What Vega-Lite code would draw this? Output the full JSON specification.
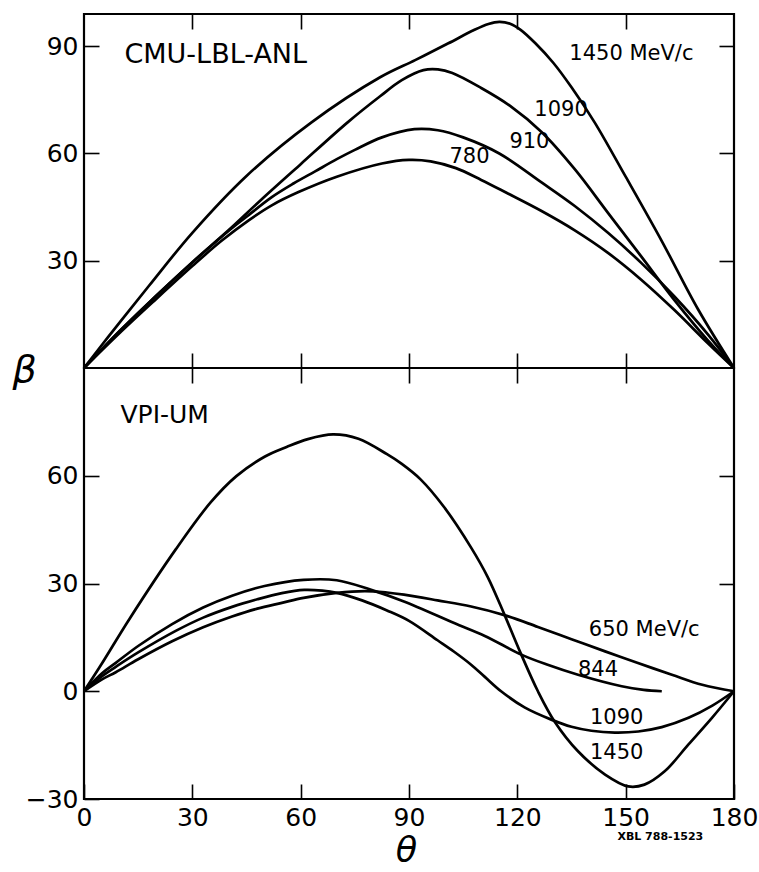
{
  "$schema": "https://vega.github.io/schema/vega-lite/v6.json",
  "padding": {"left": 10, "top": 12, "right": 5, "bottom": 5},
  "background": "white",
  "spacing": 0,
  "bounds": "flush",
  "config": {
    "view": {"stroke": "black", "strokeWidth": 2.2},
    "concat": {"spacing": 0},
    "axis": {
      "domain": false, "grid": false, "tickColor": "black", "tickWidth": 1.6, "tickSize": -15,
      "labelFont": "DejaVu Sans", "labelFontSize": 25, "labelColor": "black", "labelPadding": 21,
      "labelFlush": false, "labelOverlap": false, "labelBound": false
    },
    "text": {"font": "DejaVu Sans", "color": "black"}
  },
  "datasets": {
    "top": [
      {"s": "1450", "t": 0, "b": 0}, {"s": "1450", "t": 5, "b": 6.5}, {"s": "1450", "t": 10, "b": 12.9}, {"s": "1450", "t": 18, "b": 23}, {"s": "1450", "t": 30, "b": 37.8}, {"s": "1450", "t": 45, "b": 53.7}, {"s": "1450", "t": 63, "b": 68.7}, {"s": "1450", "t": 82, "b": 81.3}, {"s": "1450", "t": 91.7, "b": 86.1}, {"s": "1450", "t": 100.9, "b": 90.8}, {"s": "1450", "t": 108, "b": 94.5}, {"s": "1450", "t": 112, "b": 96.2}, {"s": "1450", "t": 115, "b": 96.8}, {"s": "1450", "t": 118, "b": 96.3}, {"s": "1450", "t": 121, "b": 94.5}, {"s": "1450", "t": 125, "b": 90.8}, {"s": "1450", "t": 130, "b": 85.3}, {"s": "1450", "t": 135, "b": 78.5}, {"s": "1450", "t": 141.4, "b": 68.7}, {"s": "1450", "t": 150, "b": 53.5}, {"s": "1450", "t": 160, "b": 35.5}, {"s": "1450", "t": 170, "b": 16.5}, {"s": "1450", "t": 180, "b": 0},
      {"s": "1090", "t": 0, "b": 0}, {"s": "1090", "t": 10, "b": 10.5}, {"s": "1090", "t": 20, "b": 20.2}, {"s": "1090", "t": 30, "b": 29.6}, {"s": "1090", "t": 40, "b": 38.5}, {"s": "1090", "t": 49, "b": 47}, {"s": "1090", "t": 60, "b": 57}, {"s": "1090", "t": 73, "b": 68.7}, {"s": "1090", "t": 82, "b": 76}, {"s": "1090", "t": 88, "b": 80.5}, {"s": "1090", "t": 94, "b": 83.3}, {"s": "1090", "t": 98, "b": 83.5}, {"s": "1090", "t": 102, "b": 82.5}, {"s": "1090", "t": 110, "b": 78.3}, {"s": "1090", "t": 118, "b": 73.3}, {"s": "1090", "t": 126.7, "b": 66}, {"s": "1090", "t": 135.9, "b": 55.6}, {"s": "1090", "t": 145.1, "b": 43.4}, {"s": "1090", "t": 154.3, "b": 31.2}, {"s": "1090", "t": 163.5, "b": 19}, {"s": "1090", "t": 172.7, "b": 7.8}, {"s": "1090", "t": 180, "b": 0},
      {"s": "910", "t": 0, "b": 0}, {"s": "910", "t": 10, "b": 10.4}, {"s": "910", "t": 20, "b": 20.2}, {"s": "910", "t": 30, "b": 29.5}, {"s": "910", "t": 40, "b": 38.3}, {"s": "910", "t": 45, "b": 42.3}, {"s": "910", "t": 52, "b": 47.8}, {"s": "910", "t": 58, "b": 51.6}, {"s": "910", "t": 64, "b": 55}, {"s": "910", "t": 70, "b": 58.4}, {"s": "910", "t": 75, "b": 61}, {"s": "910", "t": 82.5, "b": 64.5}, {"s": "910", "t": 91.5, "b": 66.8}, {"s": "910", "t": 98, "b": 66.5}, {"s": "910", "t": 105, "b": 64.5}, {"s": "910", "t": 115, "b": 60}, {"s": "910", "t": 126.7, "b": 51.9}, {"s": "910", "t": 135.9, "b": 45.3}, {"s": "910", "t": 145.1, "b": 37.8}, {"s": "910", "t": 154.3, "b": 29.4}, {"s": "910", "t": 163.5, "b": 20}, {"s": "910", "t": 172.7, "b": 9.5}, {"s": "910", "t": 180, "b": 0},
      {"s": "780", "t": 0, "b": 0}, {"s": "780", "t": 10, "b": 9.9}, {"s": "780", "t": 20, "b": 19.3}, {"s": "780", "t": 30, "b": 28.5}, {"s": "780", "t": 38, "b": 35.5}, {"s": "780", "t": 45.6, "b": 41.3}, {"s": "780", "t": 52, "b": 45.5}, {"s": "780", "t": 59.4, "b": 49.2}, {"s": "780", "t": 70, "b": 53.5}, {"s": "780", "t": 82.5, "b": 57.2}, {"s": "780", "t": 90, "b": 58.2}, {"s": "780", "t": 96, "b": 57.8}, {"s": "780", "t": 103, "b": 55.9}, {"s": "780", "t": 110, "b": 52.6}, {"s": "780", "t": 117, "b": 49}, {"s": "780", "t": 126.7, "b": 43.9}, {"s": "780", "t": 135.9, "b": 38.5}, {"s": "780", "t": 145.1, "b": 32.2}, {"s": "780", "t": 154.3, "b": 24.7}, {"s": "780", "t": 163.5, "b": 16.2}, {"s": "780", "t": 172.7, "b": 7}, {"s": "780", "t": 180, "b": 0}
    ],
    "bottom": [
      {"s": "1450", "t": 0, "b": 0}, {"s": "1450", "t": 5, "b": 7.8}, {"s": "1450", "t": 12.5, "b": 20}, {"s": "1450", "t": 25.4, "b": 39.5}, {"s": "1450", "t": 35, "b": 52.5}, {"s": "1450", "t": 42.2, "b": 59.9}, {"s": "1450", "t": 50, "b": 65.3}, {"s": "1450", "t": 56.1, "b": 68}, {"s": "1450", "t": 62, "b": 70.2}, {"s": "1450", "t": 69, "b": 71.5}, {"s": "1450", "t": 76, "b": 70.3}, {"s": "1450", "t": 83.9, "b": 66}, {"s": "1450", "t": 88, "b": 63.3}, {"s": "1450", "t": 93.2, "b": 59}, {"s": "1450", "t": 99.7, "b": 51.3}, {"s": "1450", "t": 107.2, "b": 40}, {"s": "1450", "t": 111.8, "b": 31.8}, {"s": "1450", "t": 116.4, "b": 21.4}, {"s": "1450", "t": 121.1, "b": 10.2}, {"s": "1450", "t": 125.7, "b": 0}, {"s": "1450", "t": 130.3, "b": -8.4}, {"s": "1450", "t": 136.8, "b": -16.7}, {"s": "1450", "t": 144.3, "b": -23.2}, {"s": "1450", "t": 150.7, "b": -26.5}, {"s": "1450", "t": 155.2, "b": -26}, {"s": "1450", "t": 160.8, "b": -22.3}, {"s": "1450", "t": 167.4, "b": -14.8}, {"s": "1450", "t": 173.9, "b": -7.4}, {"s": "1450", "t": 180, "b": 0},
      {"s": "844", "t": 0, "b": 0}, {"s": "844", "t": 5, "b": 5}, {"s": "844", "t": 8.8, "b": 7.9}, {"s": "844", "t": 15, "b": 12.6}, {"s": "844", "t": 24.4, "b": 18.7}, {"s": "844", "t": 33, "b": 23.3}, {"s": "844", "t": 41, "b": 26.6}, {"s": "844", "t": 50, "b": 29.3}, {"s": "844", "t": 60.8, "b": 31}, {"s": "844", "t": 70, "b": 30.9}, {"s": "844", "t": 79.3, "b": 28.3}, {"s": "844", "t": 88.6, "b": 25}, {"s": "844", "t": 102.5, "b": 19}, {"s": "844", "t": 111, "b": 15.4}, {"s": "844", "t": 121.1, "b": 10.2}, {"s": "844", "t": 128, "b": 7.5}, {"s": "844", "t": 136.8, "b": 4.6}, {"s": "844", "t": 148.9, "b": 1.4}, {"s": "844", "t": 155, "b": 0.4}, {"s": "844", "t": 160, "b": 0},
      {"s": "1090", "t": 0, "b": 0}, {"s": "1090", "t": 5, "b": 4.2}, {"s": "1090", "t": 8.8, "b": 6.8}, {"s": "1090", "t": 15, "b": 10.8}, {"s": "1090", "t": 25.4, "b": 16.8}, {"s": "1090", "t": 33, "b": 20.5}, {"s": "1090", "t": 41, "b": 23.5}, {"s": "1090", "t": 48, "b": 25.6}, {"s": "1090", "t": 54.8, "b": 27.3}, {"s": "1090", "t": 61, "b": 28.2}, {"s": "1090", "t": 66, "b": 28}, {"s": "1090", "t": 70, "b": 27.4}, {"s": "1090", "t": 77, "b": 25.3}, {"s": "1090", "t": 83.9, "b": 22.5}, {"s": "1090", "t": 90, "b": 19.6}, {"s": "1090", "t": 97.9, "b": 14.2}, {"s": "1090", "t": 102.5, "b": 11}, {"s": "1090", "t": 107.2, "b": 7.4}, {"s": "1090", "t": 111, "b": 4}, {"s": "1090", "t": 115.5, "b": 0}, {"s": "1090", "t": 122, "b": -4.5}, {"s": "1090", "t": 129.4, "b": -7.9}, {"s": "1090", "t": 135, "b": -9.9}, {"s": "1090", "t": 140.5, "b": -11}, {"s": "1090", "t": 147, "b": -11.5}, {"s": "1090", "t": 153.5, "b": -11.2}, {"s": "1090", "t": 160, "b": -10}, {"s": "1090", "t": 167.4, "b": -7.4}, {"s": "1090", "t": 174, "b": -4}, {"s": "1090", "t": 180, "b": 0},
      {"s": "650", "t": 0, "b": 0}, {"s": "650", "t": 5, "b": 3.3}, {"s": "650", "t": 8.8, "b": 5.3}, {"s": "650", "t": 15, "b": 8.9}, {"s": "650", "t": 24.4, "b": 13.9}, {"s": "650", "t": 33, "b": 17.8}, {"s": "650", "t": 41, "b": 20.8}, {"s": "650", "t": 48, "b": 23}, {"s": "650", "t": 54.8, "b": 24.6}, {"s": "650", "t": 60.8, "b": 26}, {"s": "650", "t": 70, "b": 27.4}, {"s": "650", "t": 77.8, "b": 27.9}, {"s": "650", "t": 83.9, "b": 27.5}, {"s": "650", "t": 88.6, "b": 26.9}, {"s": "650", "t": 97.9, "b": 25.3}, {"s": "650", "t": 107.2, "b": 23.6}, {"s": "650", "t": 116.4, "b": 21.2}, {"s": "650", "t": 125.7, "b": 17.9}, {"s": "650", "t": 135, "b": 14.5}, {"s": "650", "t": 144.3, "b": 11.1}, {"s": "650", "t": 153, "b": 8}, {"s": "650", "t": 162.8, "b": 4.6}, {"s": "650", "t": 171.2, "b": 1.8}, {"s": "650", "t": 180, "b": 0}
    ],
    "notes": [
      {"panel": "top", "kind": "title", "t": 11.2, "b": 87.6, "text": "CMU-LBL-ANL"},
      {"panel": "top", "kind": "curve", "t": 134.4, "b": 87.7, "text": "1450 MeV/c"},
      {"panel": "top", "kind": "curve", "t": 124.7, "b": 72.2, "text": "1090"},
      {"panel": "top", "kind": "curve", "t": 117.8, "b": 63.1, "text": "910"},
      {"panel": "top", "kind": "curve", "t": 101.2, "b": 58.9, "text": "780"},
      {"panel": "bottom", "kind": "title", "t": 10.1, "b": 76.9, "text": "VPI-UM"},
      {"panel": "bottom", "kind": "curve", "t": 139.8, "b": 17.1, "text": "650 MeV/c"},
      {"panel": "bottom", "kind": "curve", "t": 136.8, "b": 6, "text": "844"},
      {"panel": "bottom", "kind": "curve", "t": 140.1, "b": -7.4, "text": "1090"},
      {"panel": "bottom", "kind": "curve", "t": 140.1, "b": -17.2, "text": "1450"},
      {"panel": "bottom", "kind": "ref", "t": 159.6, "b": -40.6, "text": "XBL 788-1523"}
    ]
  },
  "vconcat": [
    {
      "width": 650,
      "height": 354,
      "resolve": {"axis": {"x": "independent", "y": "independent"}},
      "layer": [
        {
          "data": {"name": "top"},
          "mark": {"type": "line", "color": "black", "strokeWidth": 2.7, "interpolate": "catmull-rom"},
          "encoding": {
            "x": {"field": "t", "type": "quantitative", "scale": {"domain": [0, 180], "nice": false, "zero": false},
                  "axis": {"orient": "bottom", "values": [30, 60, 90, 120, 150], "labels": false, "title": null}},
            "y": {"field": "b", "type": "quantitative", "scale": {"domain": [0, 99], "nice": false},
                  "axis": {"orient": "left", "values": [30, 60, 90], "title": "β", "titleAngle": 0, "titleFont": "DejaVu Sans", "titleFontStyle": "italic", "titleFontWeight": "normal", "titleFontSize": 38, "titleX": -60, "titleY": 356, "titleAlign": "center", "titleBaseline": "middle", "titleColor": "black"}},
            "detail": {"field": "s"},
            "order": {"field": "t"}
          }
        },
        {
          "data": {"name": "notes"},
          "transform": [{"filter": "datum.panel === 'top' && datum.kind === 'curve'"}],
          "mark": {"type": "text", "align": "left", "baseline": "middle", "fontSize": 21},
          "encoding": {
            "x": {"field": "t", "type": "quantitative", "axis": {"orient": "top", "values": [30, 60, 90, 120, 150], "labels": false, "title": null}},
            "y": {"field": "b", "type": "quantitative", "axis": {"orient": "right", "values": [30, 60, 90], "labels": false, "title": null}},
            "text": {"field": "text"}
          }
        },
        {
          "data": {"name": "notes"},
          "transform": [{"filter": "datum.panel === 'top' && datum.kind === 'title'"}],
          "mark": {"type": "text", "align": "left", "baseline": "middle", "fontSize": 27, "letterSpacing": 2},
          "encoding": {
            "x": {"field": "t", "type": "quantitative", "axis": null},
            "y": {"field": "b", "type": "quantitative", "axis": null},
            "text": {"field": "text"}
          }
        }
      ]
    },
    {
      "width": 650,
      "height": 431,
      "resolve": {"axis": {"x": "independent", "y": "independent"}},
      "layer": [
        {
          "mark": {"type": "rule", "color": "black", "strokeWidth": 1.6},
          "encoding": {"y": {"datum": 0, "type": "quantitative", "axis": null}}
        },
        {
          "data": {"name": "bottom"},
          "mark": {"type": "line", "color": "black", "strokeWidth": 2.7, "interpolate": "catmull-rom"},
          "encoding": {
            "x": {"field": "t", "type": "quantitative", "scale": {"domain": [0, 180], "nice": false, "zero": false},
                  "axis": {"orient": "bottom", "values": [0, 30, 60, 90, 120, 150, 180], "title": "θ", "titleFont": "DejaVu Sans", "titleFontStyle": "italic", "titleFontWeight": "normal", "titleFontSize": 35, "titleX": 322, "titleY": 51, "titleAlign": "center", "titleBaseline": "middle", "titleColor": "black"}},
            "y": {"field": "b", "type": "quantitative", "scale": {"domain": [-30, 90], "nice": false, "zero": false},
                  "axis": {"orient": "left", "values": [-30, 0, 30, 60], "title": null}},
            "detail": {"field": "s"},
            "order": {"field": "t"}
          }
        },
        {
          "data": {"name": "notes"},
          "transform": [{"filter": "datum.panel === 'bottom' && datum.kind === 'curve'"}],
          "mark": {"type": "text", "align": "left", "baseline": "middle", "fontSize": 21},
          "encoding": {
            "x": {"field": "t", "type": "quantitative", "axis": {"orient": "top", "values": [30, 60, 90, 120, 150], "labels": false, "title": null}},
            "y": {"field": "b", "type": "quantitative", "axis": {"orient": "right", "values": [30, 60], "labels": false, "title": null}},
            "text": {"field": "text"}
          }
        },
        {
          "data": {"name": "notes"},
          "transform": [{"filter": "datum.panel === 'bottom' && datum.kind === 'title'"}],
          "mark": {"type": "text", "align": "left", "baseline": "middle", "fontSize": 25, "letterSpacing": 4},
          "encoding": {
            "x": {"field": "t", "type": "quantitative", "axis": null},
            "y": {"field": "b", "type": "quantitative", "axis": null},
            "text": {"field": "text"}
          }
        },
        {
          "data": {"name": "notes"},
          "transform": [{"filter": "datum.panel === 'bottom' && datum.kind === 'ref'"}],
          "mark": {"type": "text", "align": "center", "baseline": "middle", "fontSize": 11, "fontWeight": "bold"},
          "encoding": {
            "x": {"field": "t", "type": "quantitative", "axis": null},
            "y": {"field": "b", "type": "quantitative", "axis": null},
            "text": {"field": "text"}
          }
        }
      ]
    }
  ]
}
